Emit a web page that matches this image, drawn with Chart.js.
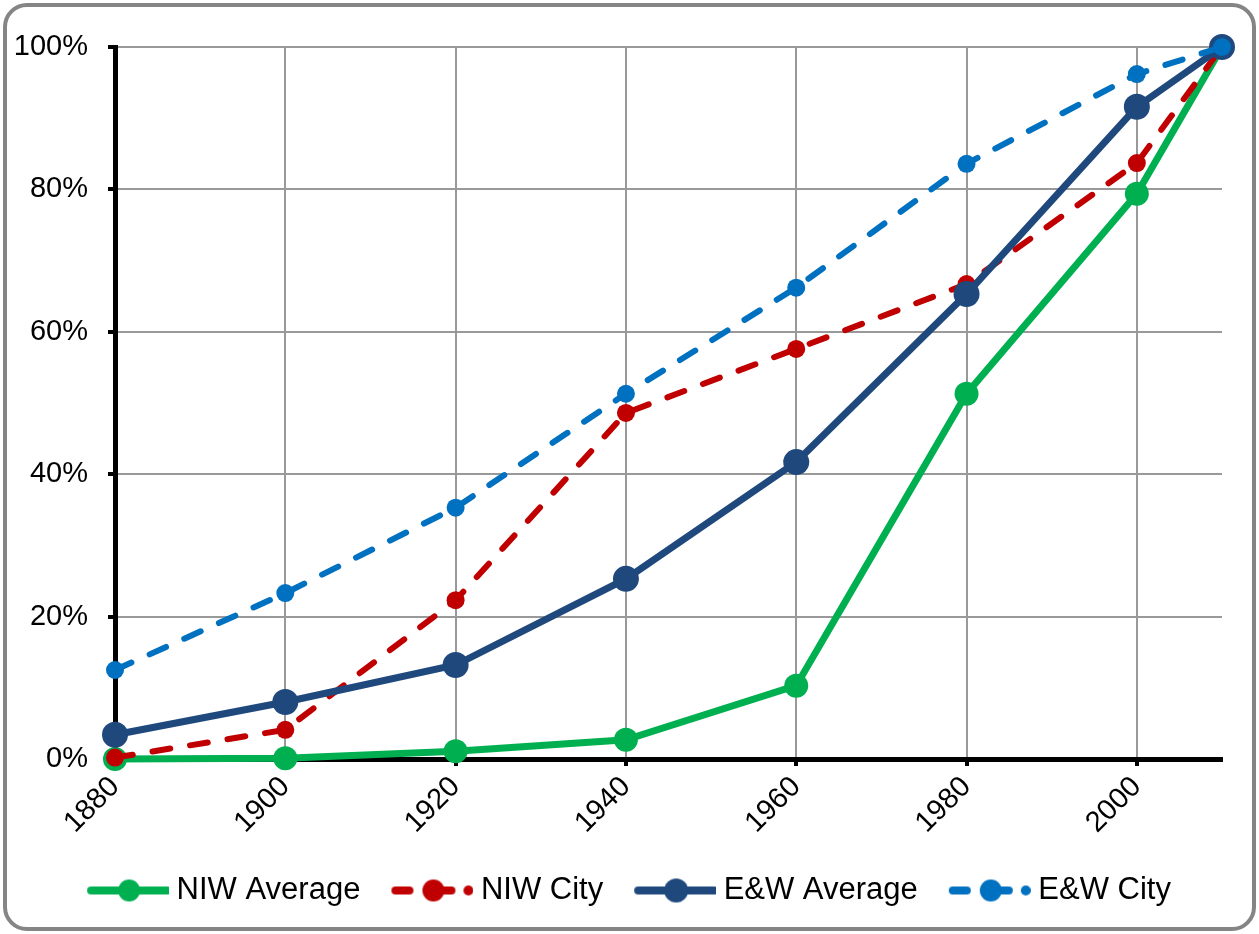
<!DOCTYPE html>
<html lang="en">
<head>
  <meta charset="UTF-8">
  <script src="https://cdn.jsdelivr.net/npm/chart.js"></script>
  <title>NIW vs E&amp;W</title>
  <style>
    body {
      margin: 0;
      padding: 0;
      background-color: #fff;
      font-family: "Liberation Sans", Arial, sans-serif;
    }

    .frame {
      position: absolute;
      left: 3px;
      top: 3px;
      width: 1253px;
      height: 928px;
      box-sizing: border-box;
      border: 4px solid #858585;
      border-radius: 24px;
    }

    #chart {
      position: absolute;
      left: 0;
      top: 0;
    }
  </style>
</head>
<body>
<div class="frame"></div>
<canvas id="chart" width="1259" height="934"></canvas>

<script>
  // years (last point is 2010, axis ticks every 20 years)
  const years = [1880, 1900, 1920, 1940, 1960, 1980, 2000, 2010];
  const xTicks = [1880, 1900, 1920, 1940, 1960, 1980, 2000];
  const yTicks = [0, 20, 40, 60, 80, 100];

  const niwAverage = [0.0, 0.1, 1.1, 2.7, 10.3, 51.3, 79.4, 100];
  const niwCity = [0.2, 4.1, 22.3, 48.6, 57.6, 66.7, 83.7, 100];
  const ewAverage = [3.4, 8.0, 13.2, 25.3, 41.7, 65.3, 91.6, 100];
  const ewCity = [12.5, 23.3, 35.3, 51.3, 66.2, 83.6, 96.2, 100];

  const GREEN = '#00B050';
  const RED = '#C00000';
  const NAVY = '#1F497D';
  const BLUE = '#0070C0';
  const FONT = '"Liberation Sans", Arial, sans-serif';

  function toPoints(values) {
    return values.map((v, i) => ({ x: years[i], y: v }));
  }

  // little legend swatch: line (solid or dashed) with a dot in the middle
  function makeSwatch(color, dashed, dotRadius) {
    const c = document.createElement('canvas');
    c.width = 111;
    c.height = 30;
    const g = c.getContext('2d');
    const x0 = 33, x1 = 109, y = 15, mid = (x0 + x1) / 2;
    g.strokeStyle = color;
    g.fillStyle = color;
    g.lineWidth = 8;
    g.lineCap = 'round';
    if (dashed) {
      g.beginPath(); g.moveTo(x0, y); g.lineTo(x0 + 14, y); g.stroke();
      g.beginPath(); g.moveTo(mid, y); g.lineTo(mid + 18, y); g.stroke();
      g.beginPath(); g.arc(x1 - 3, y, 5, 0, Math.PI * 2); g.fill();
    } else {
      g.beginPath(); g.moveTo(x0, y); g.lineTo(x1, y); g.stroke();
    }
    g.beginPath(); g.arc(mid, y, dotRadius, 0, Math.PI * 2); g.fill();
    return c;
  }

  const swatches = [
    makeSwatch(GREEN, false, 11),
    makeSwatch(RED, true, 11),
    makeSwatch(NAVY, false, 12),
    makeSwatch(BLUE, true, 11),
  ];

  const ctx = document.getElementById('chart').getContext('2d');
  const chart = new Chart(ctx, {
    type: 'line',
    data: {
      datasets: [
        {
          label: 'NIW Average',
          data: toPoints(niwAverage),
          borderColor: GREEN,
          backgroundColor: GREEN,
          borderWidth: 7,
          pointRadius: 12,
          pointBorderWidth: 0,
          order: 4,
        },
        {
          label: 'NIW City',
          data: toPoints(niwCity),
          borderColor: RED,
          backgroundColor: RED,
          borderWidth: 6,
          borderDash: [18, 20],
          borderCapStyle: 'round',
          pointRadius: 9,
          pointBorderWidth: 0,
          order: 3,
        },
        {
          label: 'E&W Average',
          data: toPoints(ewAverage),
          borderColor: NAVY,
          backgroundColor: NAVY,
          borderWidth: 7,
          pointRadius: 13,
          pointBorderWidth: 0,
          order: 2,
        },
        {
          label: 'E&W City',
          data: toPoints(ewCity),
          borderColor: BLUE,
          backgroundColor: BLUE,
          borderWidth: 6,
          borderDash: [18, 20],
          borderCapStyle: 'round',
          pointRadius: 9,
          pointBorderWidth: 0,
          order: 1,
        },
      ],
    },
    options: {
      responsive: false,
      animation: false,
      devicePixelRatio: 1,
      clip: false,
      layout: {
        padding: { left: 15, right: 37, top: 47, bottom: 18 },
      },
      plugins: {
        tooltip: { enabled: false },
        legend: {
          position: 'bottom',
          labels: {
            usePointStyle: true,
            pointStyleWidth: 95,
            padding: 10,
            color: '#000',
            font: { family: FONT, size: 31 },
            sort: (a, b) => a.datasetIndex - b.datasetIndex,
            generateLabels: (ch) => ch.data.datasets.map((ds, i) => ({
              text: ds.label,
              datasetIndex: i,
              pointStyle: swatches[i],
              fillStyle: ds.borderColor,
              strokeStyle: ds.borderColor,
              lineWidth: 0,
              hidden: false,
              fontColor: '#000',
            })),
          },
        },
      },
      scales: {
        x: {
          type: 'linear',
          min: 1880,
          max: 2010,
          afterBuildTicks: (axis) => { axis.ticks = xTicks.map(v => ({ value: v })); },
          afterFit: (axis) => { axis.height = 106; },
          ticks: {
            color: '#000',
            font: { family: FONT, size: 29 },
            minRotation: 45,
            maxRotation: 45,
            padding: 4,
            callback: (v) => String(v),
          },
          grid: {
            color: '#999',
            lineWidth: 2,
            tickLength: 7,
            tickColor: '#000',
            tickWidth: 4,
          },
          border: { color: '#000', width: 5 },
        },
        y: {
          min: 0,
          max: 100,
          afterBuildTicks: (axis) => { axis.ticks = yTicks.map(v => ({ value: v })); },
          afterFit: (axis) => { axis.width = 100; },
          ticks: {
            color: '#000',
            font: { family: FONT, size: 29 },
            padding: 20,
            callback: (v) => v + '%',
          },
          grid: {
            color: '#999',
            lineWidth: 2,
            tickLength: 7,
            tickColor: '#000',
            tickWidth: 4,
          },
          border: { color: '#000', width: 5 },
        },
      },
    },
  });
</script>
</body>
</html>
